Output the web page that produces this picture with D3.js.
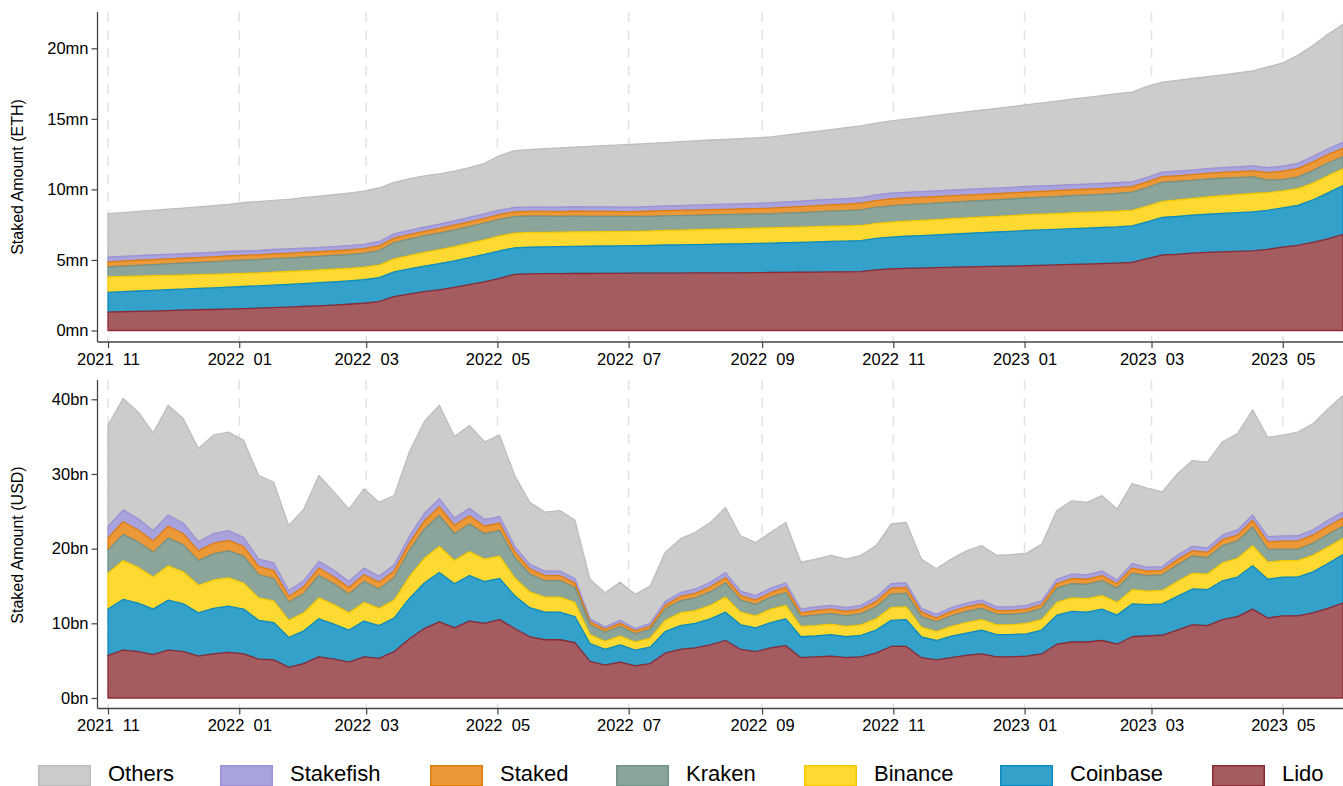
<!DOCTYPE html>
<html><head><meta charset="utf-8">
<script src="https://cdn.jsdelivr.net/npm/d3@7"></script>
<style>
html,body{margin:0;padding:0;background:#fff;}
svg{display:block;font-family:"Liberation Sans",Arial,Helvetica,sans-serif;}
</style></head><body>
<svg id="chart" width="1343" height="786"></svg>
<script>
// ---------- DATA ----------
const dates = ["2021-11-01","2021-11-08","2021-11-15","2021-11-22","2021-11-29","2021-12-06","2021-12-13","2021-12-20","2021-12-27",
"2022-01-03","2022-01-10","2022-01-17","2022-01-24","2022-01-31","2022-02-07","2022-02-14","2022-02-21","2022-02-28",
"2022-03-07","2022-03-14","2022-03-21","2022-03-28","2022-04-04","2022-04-11","2022-04-18","2022-04-25",
"2022-05-02","2022-05-09","2022-05-16","2022-05-23","2022-05-30","2022-06-06","2022-06-13","2022-06-20","2022-06-27",
"2022-07-04","2022-07-11","2022-07-18","2022-07-25","2022-08-01","2022-08-08","2022-08-15","2022-08-22","2022-08-29",
"2022-09-05","2022-09-12","2022-09-19","2022-09-26","2022-10-03","2022-10-10","2022-10-17","2022-10-24","2022-10-31",
"2022-11-07","2022-11-14","2022-11-21","2022-11-28","2022-12-05","2022-12-12","2022-12-19","2022-12-26",
"2023-01-02","2023-01-09","2023-01-16","2023-01-23","2023-01-30","2023-02-06","2023-02-13","2023-02-20","2023-02-27",
"2023-03-06","2023-03-13","2023-03-20","2023-03-27","2023-04-03","2023-04-10","2023-04-17","2023-04-24",
"2023-05-01","2023-05-08","2023-05-15","2023-05-22","2023-05-29"];

const seriesNames = ["Lido","Coinbase","Binance","Kraken","Staked","Stakefish","Others"];

// Staked amount, million ETH
const ethLido = [1.30,1.33,1.36,1.38,1.41,1.44,1.47,1.49,1.52,1.55,1.58,1.62,1.66,1.70,1.75,1.80,1.86,1.93,2.05,2.40,2.58,2.75,2.88,3.05,3.25,3.45,3.70,3.98,4.02,4.03,4.03,4.04,4.04,4.05,4.05,4.06,4.06,4.07,4.07,4.08,4.08,4.09,4.09,4.10,4.11,4.12,4.13,4.14,4.15,4.16,4.17,4.30,4.37,4.40,4.42,4.45,4.47,4.50,4.52,4.54,4.56,4.59,4.62,4.65,4.68,4.71,4.74,4.77,4.82,5.10,5.35,5.40,5.48,5.53,5.57,5.61,5.65,5.75,5.91,6.03,6.25,6.50,6.80];
const ethCoinbase = [1.40,1.42,1.44,1.46,1.48,1.49,1.51,1.53,1.55,1.57,1.58,1.60,1.61,1.62,1.64,1.65,1.66,1.68,1.70,1.75,1.78,1.82,1.86,1.89,1.92,1.94,1.95,1.88,1.89,1.90,1.91,1.92,1.93,1.94,1.95,1.96,1.97,1.99,2.00,2.01,2.03,2.04,2.05,2.07,2.08,2.10,2.12,2.14,2.16,2.18,2.20,2.23,2.25,2.28,2.31,2.33,2.36,2.39,2.42,2.44,2.47,2.50,2.51,2.52,2.54,2.55,2.56,2.57,2.59,2.60,2.66,2.68,2.69,2.71,2.73,2.74,2.76,2.77,2.78,2.84,3.00,3.25,3.47];
const ethBinance = [1.10,1.08,1.06,1.04,1.02,1.00,0.98,0.96,0.95,0.93,0.92,0.92,0.91,0.91,0.90,0.90,0.89,0.88,0.89,0.92,0.95,0.97,0.99,1.01,1.02,1.04,1.05,1.04,1.04,1.03,1.03,1.03,1.02,1.02,1.01,1.01,1.02,1.03,1.04,1.05,1.06,1.07,1.08,1.08,1.09,1.09,1.08,1.08,1.08,1.07,1.07,1.06,1.06,1.07,1.07,1.08,1.09,1.09,1.10,1.11,1.11,1.12,1.12,1.12,1.12,1.12,1.11,1.11,1.11,1.11,1.14,1.17,1.19,1.22,1.25,1.27,1.30,1.25,1.20,1.18,1.20,1.22,1.19];
const ethKraken = [0.70,0.73,0.76,0.78,0.81,0.84,0.86,0.89,0.91,0.94,0.94,0.95,0.95,0.96,0.96,0.97,0.97,0.98,1.02,1.15,1.16,1.16,1.17,1.17,1.17,1.18,1.18,1.17,1.15,1.14,1.12,1.11,1.10,1.08,1.07,1.05,1.04,1.04,1.03,1.02,1.02,1.01,1.00,1.00,0.99,1.01,1.03,1.05,1.07,1.09,1.11,1.13,1.15,1.15,1.16,1.16,1.16,1.17,1.17,1.17,1.18,1.18,1.19,1.20,1.21,1.22,1.24,1.26,1.28,1.32,1.35,1.31,1.28,1.26,1.24,1.21,1.18,0.90,0.80,0.82,0.88,0.90,0.85];
const ethStaked = [0.36,0.36,0.36,0.36,0.35,0.35,0.35,0.35,0.35,0.34,0.34,0.34,0.34,0.34,0.33,0.33,0.33,0.33,0.33,0.33,0.33,0.33,0.33,0.34,0.34,0.34,0.34,0.34,0.34,0.34,0.34,0.35,0.35,0.35,0.35,0.35,0.36,0.36,0.37,0.37,0.38,0.38,0.39,0.39,0.40,0.41,0.42,0.44,0.45,0.46,0.47,0.49,0.50,0.49,0.48,0.47,0.46,0.45,0.44,0.43,0.43,0.42,0.42,0.42,0.42,0.41,0.41,0.41,0.40,0.40,0.40,0.40,0.40,0.41,0.41,0.42,0.42,0.52,0.60,0.60,0.60,0.60,0.60];
const ethStakefish = [0.33,0.33,0.33,0.33,0.32,0.32,0.32,0.32,0.32,0.31,0.31,0.31,0.31,0.31,0.30,0.30,0.30,0.30,0.30,0.30,0.30,0.30,0.30,0.31,0.31,0.31,0.31,0.31,0.31,0.31,0.31,0.32,0.32,0.32,0.32,0.32,0.33,0.34,0.34,0.35,0.35,0.36,0.37,0.37,0.38,0.38,0.38,0.39,0.39,0.39,0.39,0.40,0.40,0.40,0.40,0.40,0.40,0.40,0.40,0.40,0.40,0.40,0.39,0.38,0.37,0.37,0.36,0.35,0.34,0.33,0.33,0.33,0.33,0.34,0.34,0.34,0.35,0.35,0.35,0.37,0.39,0.41,0.43];
const ethOthers = [3.09,3.11,3.13,3.17,3.21,3.24,3.27,3.30,3.34,3.43,3.47,3.48,3.52,3.58,3.64,3.67,3.73,3.78,3.81,3.65,3.65,3.62,3.57,3.53,3.54,3.59,3.87,4.03,4.07,4.13,4.20,4.23,4.29,4.34,4.40,4.45,4.48,4.49,4.53,4.56,4.58,4.60,4.62,4.64,4.67,4.74,4.82,4.87,4.94,5.02,5.09,5.09,5.12,5.19,5.27,5.35,5.43,5.50,5.57,5.65,5.72,5.79,5.88,5.97,6.05,6.14,6.23,6.31,6.36,6.44,6.37,6.44,6.49,6.52,6.58,6.66,6.74,7.14,7.32,7.66,7.88,8.12,8.36];

// Staked amount, billion USD
const usdLido = [5.7,6.4,6.2,5.8,6.4,6.2,5.6,5.9,6.1,5.9,5.2,5.1,4.1,4.6,5.5,5.2,4.8,5.5,5.3,6.2,7.9,9.3,10.2,9.4,10.3,10.0,10.5,9.3,8.2,7.8,7.8,7.4,4.9,4.4,4.8,4.3,4.6,6.0,6.5,6.7,7.1,7.7,6.5,6.2,6.7,7.0,5.4,5.5,5.6,5.4,5.5,6.0,6.9,6.9,5.4,5.1,5.4,5.7,5.9,5.5,5.5,5.6,5.9,7.2,7.5,7.5,7.7,7.2,8.2,8.3,8.4,9.1,9.8,9.7,10.5,10.9,11.9,10.7,11.0,11.0,11.4,12.0,12.7];
const usdCoinbase = [6.2,6.8,6.5,6.1,6.7,6.4,5.8,6.1,6.2,6.0,5.2,5.0,4.0,4.4,5.1,4.7,4.3,4.8,4.4,4.5,5.4,6.1,6.6,5.9,6.1,5.6,5.5,4.4,3.9,3.7,3.7,3.5,2.4,2.1,2.3,2.1,2.2,2.9,3.2,3.3,3.5,3.8,3.3,3.2,3.4,3.6,2.8,2.8,2.9,2.8,2.9,3.1,3.5,3.6,2.8,2.6,2.9,3.0,3.2,3.0,3.0,3.0,3.2,3.9,4.1,4.0,4.2,3.9,4.4,4.2,4.2,4.5,4.8,4.8,5.2,5.3,5.8,5.2,5.2,5.2,5.5,6.0,6.5];
const usdBinance = [4.8,5.2,4.8,4.3,4.6,4.3,3.7,3.8,3.8,3.5,3.0,2.9,2.3,2.4,2.8,2.6,2.3,2.5,2.3,2.4,2.9,3.3,3.5,3.1,3.2,3.0,3.0,2.4,2.1,2.0,2.0,1.9,1.2,1.1,1.2,1.1,1.2,1.5,1.7,1.7,1.8,2.0,1.7,1.6,1.8,1.8,1.4,1.4,1.4,1.4,1.4,1.5,1.7,1.7,1.3,1.2,1.3,1.4,1.4,1.3,1.3,1.4,1.4,1.7,1.8,1.8,1.8,1.7,1.9,1.8,1.8,2.0,2.1,2.1,2.4,2.5,2.7,2.3,2.2,2.2,2.2,2.2,2.2];
const usdKraken = [3.1,3.5,3.4,3.3,3.7,3.6,3.3,3.5,3.6,3.6,3.1,3.0,2.4,2.6,3.0,2.8,2.5,2.8,2.6,3.0,3.5,3.9,4.1,3.6,3.7,3.4,3.4,2.7,2.4,2.2,2.2,2.0,1.3,1.2,1.3,1.1,1.2,1.5,1.6,1.7,1.8,1.9,1.6,1.5,1.6,1.7,1.3,1.4,1.4,1.4,1.5,1.6,1.8,1.8,1.4,1.3,1.4,1.5,1.5,1.4,1.4,1.4,1.5,1.9,1.9,1.9,2.0,1.9,2.2,2.1,2.1,2.2,2.3,2.2,2.3,2.3,2.5,1.7,1.5,1.5,1.6,1.7,1.6];
const usdStaked = [1.6,1.7,1.6,1.5,1.6,1.5,1.3,1.4,1.4,1.3,1.1,1.1,0.8,0.9,1.0,0.9,0.9,0.9,0.9,0.9,1.0,1.1,1.2,1.1,1.1,1.0,1.0,0.8,0.7,0.7,0.7,0.6,0.4,0.4,0.4,0.4,0.4,0.5,0.6,0.6,0.7,0.7,0.6,0.6,0.6,0.7,0.5,0.6,0.6,0.6,0.6,0.7,0.8,0.8,0.6,0.5,0.6,0.6,0.6,0.5,0.5,0.5,0.5,0.6,0.7,0.7,0.7,0.6,0.7,0.6,0.6,0.7,0.7,0.7,0.8,0.8,0.9,1.0,1.1,1.1,1.1,1.1,1.1];
const usdStakefish = [1.5,1.6,1.5,1.4,1.5,1.4,1.2,1.3,1.3,1.2,1.0,1.0,0.8,0.8,0.9,0.9,0.8,0.9,0.8,0.8,0.9,1.0,1.1,1.0,1.0,0.9,0.9,0.7,0.6,0.6,0.6,0.6,0.4,0.3,0.4,0.3,0.4,0.5,0.5,0.6,0.6,0.7,0.6,0.6,0.6,0.6,0.5,0.5,0.5,0.5,0.5,0.6,0.6,0.6,0.5,0.5,0.5,0.5,0.5,0.5,0.5,0.5,0.5,0.6,0.6,0.6,0.6,0.5,0.6,0.5,0.5,0.6,0.6,0.6,0.6,0.7,0.7,0.7,0.7,0.7,0.7,0.8,0.8];
const usdOthers = [13.6,14.9,14.3,13.1,14.7,14.0,12.5,13.2,13.2,13.0,11.2,10.8,8.7,9.6,11.5,10.5,9.7,10.6,9.9,9.3,11.3,12.3,12.5,10.9,11.1,10.4,10.9,9.5,8.3,7.9,8.1,7.8,5.3,4.6,5.1,4.6,5.0,6.6,7.2,7.6,8.0,8.7,7.4,7.1,7.5,8.1,6.3,6.4,6.7,6.5,6.7,6.9,8.0,8.1,6.6,6.1,6.5,7.0,7.3,6.9,7.0,7.0,7.6,9.2,9.8,9.7,10.1,9.5,10.7,10.6,10.0,10.9,11.5,11.5,12.5,12.9,14.1,13.3,13.5,13.9,14.2,14.9,15.6];

const xTickDates = ["2021-11-01","2022-01-01","2022-03-01","2022-05-01","2022-07-01","2022-09-01","2022-11-01","2023-01-01","2023-03-01","2023-05-01"];
const xTickLabels = ["2021  11","2022  01","2022  03","2022  05","2022  07","2022  09","2022  11","2023  01","2023  03","2023  05"];
const ethTicks = [0,5,10,15,20];
const ethTickLabels = ["0mn","5mn","10mn","15mn","20mn"];
const usdTicks = [0,10,20,30,40];
const usdTickLabels = ["0bn","10bn","20bn","30bn","40bn"];
const legendOrder = ["Others","Stakefish","Staked","Kraken","Binance","Coinbase","Lido"];

// ---------- STYLE / LAYOUT ----------
const fillColor = {Lido:"#a45c60",Coinbase:"#33a1c9",Binance:"#fdd931",Kraken:"#8ba59a",Staked:"#ea9838",Stakefish:"#a8a3dc",Others:"#cccccc"};
const lineColor = {Lido:"#8c2b36",Coinbase:"#0d8cc0",Binance:"#f6c900",Kraken:"#73948a",Staked:"#e27d0c",Stakefish:"#9a91d6",Others:"#bdbdbd"};
const legendBoxX = [38, 220, 430, 616, 804, 1000, 1212];

const svg = d3.select("#chart");
const parse = s => new Date(s + "T00:00:00Z");
const x = d3.scaleUtc().domain([parse(dates[0]), parse(dates[dates.length-1])]).range([108, 1343]);
const axisX = 97.5;
const axisColor = "#444";

function drawPanel(series, cfg) {
  const rows = dates.map((d, i) => {
    const r = {date: parse(d)};
    seriesNames.forEach(k => r[k] = series[k][i]);
    return r;
  });
  const stacked = d3.stack().keys(seriesNames)(rows);
  const y = d3.scaleLinear().domain([0, cfg.tickMax]).range(cfg.yRange);
  const g = svg.append("g");

  g.append("g").selectAll("line").data(xTickDates).join("line")
    .attr("x1", d => x(parse(d))).attr("x2", d => x(parse(d)))
    .attr("y1", cfg.axisTop).attr("y2", cfg.axisBottom)
    .attr("stroke", "#e4e4e4").attr("stroke-width", 1.6).attr("stroke-dasharray", "10,8");

  const area = d3.area().x(d => x(d.data.date)).y0(d => y(d[0])).y1(d => y(d[1]));
  g.append("g").selectAll("path").data(stacked.slice().reverse()).join("path")
    .attr("d", area)
    .attr("fill", d => fillColor[d.key])
    .attr("stroke", d => lineColor[d.key])
    .attr("stroke-width", 1.3)
    .attr("stroke-linejoin", "round");

  const yAxis = d3.axisLeft(y).tickValues(cfg.ticks).tickFormat((d, i) => cfg.tickLabels[i]).tickSize(6).tickPadding(3);
  const ya = g.append("g").attr("transform", `translate(${axisX},0)`).call(yAxis);
  ya.select(".domain").remove();
  ya.selectAll(".tick line").attr("stroke", axisColor).attr("stroke-width", 1.2);
  ya.selectAll(".tick text").attr("font-size", 16.5).attr("fill", "#000")
    .attr("font-family", '"Liberation Sans",Arial,sans-serif');
  g.append("line").attr("x1", axisX).attr("x2", axisX).attr("y1", cfg.axisTop).attr("y2", cfg.axisBottom)
    .attr("stroke", axisColor).attr("stroke-width", 1.3);

  const xAxis = d3.axisBottom(x).tickValues(xTickDates.map(parse)).tickFormat((d, i) => xTickLabels[i]).tickSize(6).tickPadding(5);
  const xa = g.append("g").attr("transform", `translate(0,${cfg.axisBottom})`).call(xAxis);
  xa.select(".domain").remove();
  xa.selectAll(".tick line").attr("stroke", axisColor).attr("stroke-width", 1.2);
  xa.selectAll(".tick text").attr("font-size", 16.5).attr("fill", "#000").style("white-space", "pre")
    .attr("font-family", '"Liberation Sans",Arial,sans-serif');
  g.append("line").attr("x1", axisX).attr("x2", 1343).attr("y1", cfg.axisBottom).attr("y2", cfg.axisBottom)
    .attr("stroke", axisColor).attr("stroke-width", 1.3);

  g.append("text").attr("transform", `translate(19,${cfg.titleY}) rotate(-90)`)
    .attr("text-anchor", "middle").attr("dominant-baseline", "middle")
    .attr("font-size", 16).attr("fill", "#000").text(cfg.title);
}

drawPanel({Lido: ethLido, Coinbase: ethCoinbase, Binance: ethBinance, Kraken: ethKraken, Staked: ethStaked, Stakefish: ethStakefish, Others: ethOthers},
  {tickMax: 20, yRange: [330.5, 48.3], axisTop: 12, axisBottom: 342, ticks: ethTicks, tickLabels: ethTickLabels, title: "Staked Amount (ETH)", titleY: 177});

drawPanel({Lido: usdLido, Coinbase: usdCoinbase, Binance: usdBinance, Kraken: usdKraken, Staked: usdStaked, Stakefish: usdStakefish, Others: usdOthers},
  {tickMax: 40, yRange: [698, 399.3], axisTop: 380, axisBottom: 708.5, ticks: usdTicks, tickLabels: usdTickLabels, title: "Staked Amount (USD)", titleY: 545});

// legend
const lg = svg.append("g");
legendOrder.forEach((k, i) => {
  const lx = legendBoxX[i];
  lg.append("rect").attr("x", lx + 0.75).attr("y", 765.75).attr("width", 51.5).attr("height", 20)
    .attr("fill", fillColor[k]).attr("stroke", lineColor[k]).attr("stroke-width", 1.5);
  lg.append("text").attr("x", lx + 70).attr("y", 781).attr("font-size", 22).attr("fill", "#000").text(k);
});
</script>
</body></html>
